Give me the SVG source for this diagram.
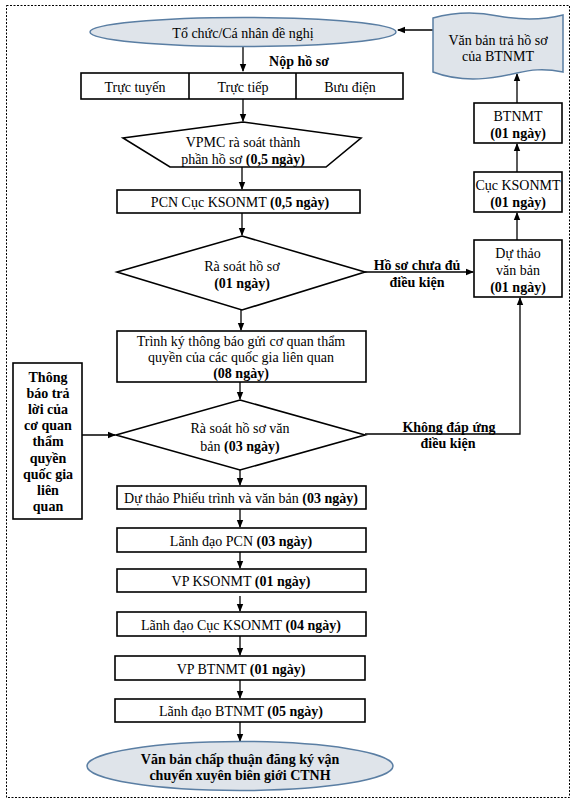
<svg xmlns="http://www.w3.org/2000/svg" width="575" height="804" viewBox="0 0 575 804">
<defs>
<marker id="ah" markerWidth="8" markerHeight="8" refX="7" refY="4" orient="auto" markerUnits="userSpaceOnUse">
<path d="M0,0.8 L8,4 L0,7.2 Z" fill="#000"/>
</marker>
<style>
text{font-family:"Liberation Serif","Times New Roman",serif;font-size:14px;fill:#000;text-anchor:middle;dominant-baseline:central}
.b{font-weight:bold}
.box{fill:#fff;stroke:#000;stroke-width:1.6}
.term{fill:#dfe4ea;stroke:#5a7ea3;stroke-width:1.5}
.con{fill:none;stroke:#000;stroke-width:1.3}
</style>
</defs>
<rect x="6.5" y="5.5" width="563" height="792" fill="none" stroke="#000" stroke-width="1" stroke-dasharray="2,1.5"/>

<g id="connectors">
<line class="con" x1="433" y1="30" x2="398" y2="30" marker-end="url(#ah)"/>
<line class="con" x1="243" y1="46" x2="243" y2="71" marker-end="url(#ah)"/>
<line class="con" x1="243" y1="99" x2="243" y2="121" marker-end="url(#ah)"/>
<line class="con" x1="242" y1="167" x2="242" y2="189" marker-end="url(#ah)"/>
<line class="con" x1="242" y1="213" x2="242" y2="235" marker-end="url(#ah)"/>
<line class="con" x1="365" y1="272" x2="473" y2="272" marker-end="url(#ah)"/>
<line class="con" x1="517" y1="240" x2="517" y2="213" marker-end="url(#ah)"/>
<line class="con" x1="517" y1="172" x2="517" y2="144" marker-end="url(#ah)"/>
<line class="con" x1="517" y1="103" x2="517" y2="74" marker-end="url(#ah)"/>
<line class="con" x1="241" y1="310" x2="241" y2="330" marker-end="url(#ah)"/>
<line class="con" x1="240" y1="382" x2="240" y2="399" marker-end="url(#ah)"/>
<line class="con" x1="82" y1="435" x2="115" y2="435" marker-end="url(#ah)"/>
<polyline class="con" points="365,434 520,434 520,298" marker-end="url(#ah)"/>
<line class="con" x1="240" y1="470" x2="240" y2="485" marker-end="url(#ah)"/>
<line class="con" x1="240" y1="509" x2="240" y2="527" marker-end="url(#ah)"/>
<line class="con" x1="240" y1="552" x2="240" y2="568" marker-end="url(#ah)"/>
<line class="con" x1="240" y1="596" x2="240" y2="611" marker-end="url(#ah)"/>
<line class="con" x1="240" y1="636" x2="240" y2="655" marker-end="url(#ah)"/>
<line class="con" x1="240" y1="680" x2="240" y2="698" marker-end="url(#ah)"/>
<line class="con" x1="240" y1="722" x2="240" y2="741" marker-end="url(#ah)"/>
<text class="b" x="299" y="61">Nộp hồ sơ</text>
<text class="b" x="417" y="265">Hồ sơ chưa đủ</text>
<text class="b" x="417" y="282">điều kiện</text>
<text class="b" x="449" y="427">Không đáp ứng</text>
<text class="b" x="448" y="443">điều kiện</text>
</g>

<g id="n-start">
<ellipse class="term" cx="243" cy="32" rx="153" ry="14.5"/>
<text x="243" y="33">Tổ chức/Cá nhân đề nghị</text>
</g>

<g id="n-doc">
<path class="term" d="M433,18 C455,12 478,12 498,16 C520,20 543,20 563,15 L563,72 C543,68 530,70 517,73 C495,78 465,84 433,72 Z"/>
<text x="498" y="40">Văn bản trả hồ sơ</text>
<text x="498" y="56">của BTNMT</text>
</g>

<g id="n-submit">
<rect class="box" x="81" y="73" width="322" height="26"/>
<line x1="189" y1="73" x2="189" y2="99" stroke="#000" stroke-width="1.6"/>
<line x1="296" y1="73" x2="296" y2="99" stroke="#000" stroke-width="1.6"/>
<text x="135" y="87">Trực tuyến</text>
<text x="243" y="87">Trực tiếp</text>
<text x="350" y="87">Bưu điện</text>
</g>

<g id="n-vpmc">
<polygon class="box" points="243,122 361,138 326,167 170,167 123,138"/>
<text x="243" y="142">VPMC rà soát thành</text>
<text x="243" y="159">phần hồ sơ <tspan class="b">(0,5 ngày)</tspan></text>
</g>

<g id="n-pcn">
<rect class="box" x="117" y="190" width="243" height="23"/>
<text x="240" y="202">PCN Cục KSONMT <tspan class="b">(0,5 ngày)</tspan></text>
</g>

<g id="n-rasoat1">
<polygon class="box" points="242,236 365,272 242,310 117,272"/>
<text x="242" y="266">Rà soát hồ sơ</text>
<text class="b" x="242" y="283">(01 ngày)</text>
</g>

<g id="n-duthao">
<rect class="box" x="474" y="240" width="88" height="57"/>
<text x="518" y="253">Dự thảo</text>
<text x="518" y="270">văn bản</text>
<text class="b" x="518" y="287">(01 ngày)</text>
</g>

<g id="n-cuc">
<rect class="box" x="474" y="172" width="88" height="40"/>
<text x="518" y="185">Cục KSONMT</text>
<text class="b" x="518" y="202">(01 ngày)</text>
</g>

<g id="n-btnmt">
<rect class="box" x="474" y="103" width="88" height="40"/>
<text x="518" y="116">BTNMT</text>
<text class="b" x="518" y="133">(01 ngày)</text>
</g>

<g id="n-trinhky">
<rect class="box" x="117" y="331" width="249" height="51"/>
<text x="241" y="341">Trình ký thông báo gửi cơ quan thẩm</text>
<text x="241" y="357">quyền của các quốc gia liên quan</text>
<text class="b" x="241" y="373">(08 ngày)</text>
</g>

<g id="n-thongbao">
<rect class="box" x="13" y="363" width="69" height="156"/>
<text class="b" x="48" y="377">Thông</text>
<text class="b" x="48" y="393">báo trả</text>
<text class="b" x="48" y="409">lời của</text>
<text class="b" x="48" y="425">cơ quan</text>
<text class="b" x="48" y="441">thẩm</text>
<text class="b" x="48" y="458">quyền</text>
<text class="b" x="48" y="474">quốc gia</text>
<text class="b" x="48" y="490">liên</text>
<text class="b" x="48" y="506">quan</text>
</g>

<g id="n-rasoat2">
<polygon class="box" points="240,400 365,435 240,470 116,435"/>
<text x="240" y="428">Rà soát hồ sơ văn</text>
<text x="240" y="446">bản <tspan class="b">(03 ngày)</tspan></text>
</g>

<g id="n-phieu">
<rect class="box" x="117" y="486" width="249" height="23"/>
<text x="241" y="498">Dự thảo Phiếu trình và văn bản <tspan class="b">(03 ngày)</tspan></text>
</g>

<g id="n-ldpcn">
<rect class="box" x="117" y="528" width="249" height="24"/>
<text x="241" y="541">Lãnh đạo PCN <tspan class="b">(03 ngày)</tspan></text>
</g>

<g id="n-vpks">
<rect class="box" x="117" y="569" width="249" height="23"/>
<text x="241" y="581">VP KSONMT <tspan class="b">(01 ngày)</tspan></text>
</g>

<g id="n-ldcuc">
<rect class="box" x="117" y="612" width="249" height="24"/>
<text x="241" y="625">Lãnh đạo Cục KSONMT <tspan class="b">(04 ngày)</tspan></text>
</g>

<g id="n-vpbt">
<rect class="box" x="115" y="656" width="250" height="24"/>
<text x="241" y="669">VP BTNMT <tspan class="b">(01 ngày)</tspan></text>
</g>

<g id="n-ldbt">
<rect class="box" x="115" y="699" width="250" height="23"/>
<text x="241" y="711">Lãnh đạo BTNMT <tspan class="b">(05 ngày)</tspan></text>
</g>

<g id="n-end">
<ellipse class="term" cx="240" cy="766" rx="153" ry="24.5"/>
<text class="b" x="240" y="759">Văn bản chấp thuận đăng ký vận</text>
<text class="b" x="240" y="775">chuyển xuyên biên giới CTNH</text>
</g>
</svg>
